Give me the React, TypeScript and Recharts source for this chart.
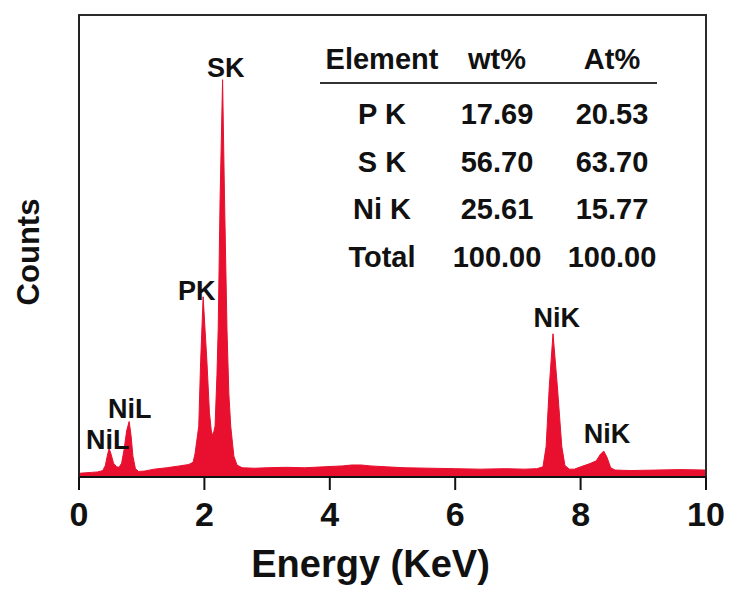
import { AreaChart, Area, XAxis, YAxis, ReferenceArea, ReferenceDot, Label } from "recharts";

// EDS spectrum (energy in KeV, counts in % of plot height)
const energy = [
  0.0, 0.1, 0.2, 0.3, 0.38, 0.42, 0.45, 0.48, 0.51, 0.55, 0.6, 0.64, 0.68, 0.72, 0.76, 0.8, 0.83, 0.86, 0.9,
  0.95, 1.05, 1.2, 1.4, 1.6, 1.75, 1.82, 1.85, 1.88, 1.91, 1.94, 1.98, 2.01, 2.04, 2.08, 2.11, 2.13, 2.15,
  2.17, 2.2, 2.22, 2.25, 2.29, 2.32, 2.36, 2.39, 2.42, 2.47, 2.52, 2.6, 2.8, 3.0, 3.3, 3.6, 3.9, 4.2, 4.35,
  4.5, 4.65, 4.9, 5.2, 5.6, 6.0, 6.4, 6.8, 7.1, 7.3, 7.4, 7.45, 7.5, 7.56, 7.63, 7.7, 7.75, 7.82, 7.9, 8.0,
  8.15, 8.25, 8.32, 8.37, 8.42, 8.48, 8.55, 8.8, 9.2, 9.6, 10.0,
];
const counts = [
  0.8, 0.9, 1.0, 1.1, 1.4, 2.5, 4.5, 6.2, 5.0, 3.0, 2.2, 2.1, 3.0, 6.0, 10.0, 12.0, 9.0, 4.5, 1.8,
  1.2, 1.3, 1.7, 2.0, 2.4, 2.7, 3.2, 5.0, 8.0, 11.0, 25.0, 39.0, 32.0, 25.0, 14.0, 10.0, 9.0, 9.8,
  11.0, 22.0, 32.0, 60.0, 86.0, 61.0, 32.0, 18.0, 11.0, 4.5, 2.6, 2.0, 1.9, 2.0, 2.1, 2.0, 2.2, 2.4, 2.6,
  2.6, 2.4, 2.2, 2.0, 1.9, 1.8, 1.7, 1.8, 1.7, 1.8, 2.2, 6.6, 19.5, 31.0, 19.5, 6.6, 2.5, 1.7, 1.7, 2.2,
  2.9, 3.5, 5.0, 5.6, 4.3, 2.0, 1.5, 1.4, 1.5, 1.6, 1.5,
];
const xTicks = [0, 2, 4, 6, 8, 10];

const peakNames = ["NiL", "NiL", "PK", "SK", "NiK", "NiK"];
const peakX = [0.46, 0.81, 1.88, 2.34, 7.62, 8.42];
const peakY = [8.2, 14.9, 40.3, 88.7, 34.6, 9.5];

const tableHeader = ["Element", "wt%", "At%"];
const elements = ["P K", "S K", "Ni K", "Total"];
const wtPct = ["17.69", "56.70", "25.61", "100.00"];
const atPct = ["20.53", "63.70", "15.77", "100.00"];

const data = energy.map((e, i) => ({ energy: e, counts: counts[i] }));

const FONT = "'Liberation Sans', Arial, Helvetica, sans-serif";
const RED = "#e8102e";
const INK = "#111";

function CountsLabel({ viewBox }: any) {
  const x = viewBox.x + 28;
  const y = viewBox.y + viewBox.height / 2 + 6;
  return (
    <text
      x={x}
      y={y}
      transform={`rotate(-90, ${x}, ${y})`}
      textAnchor="middle"
      dominantBaseline="central"
      fontFamily={FONT}
      fontWeight="bold"
      fontSize={31}
      fill={INK}
    >
      Counts
    </text>
  );
}

function EnergyLabel({ viewBox }: any) {
  return (
    <text
      x={viewBox.x + viewBox.width / 2 - 22}
      y={viewBox.y + 87}
      textAnchor="middle"
      dominantBaseline="central"
      fontFamily={FONT}
      fontWeight="bold"
      fontSize={38}
      fill={INK}
    >
      Energy (KeV)
    </text>
  );
}

const colX = [382, 497, 612];
const rowY = [114, 162, 209, 257];

function Cell({ x, y, text }: { x: number; y: number; text: string }) {
  return (
    <div
      style={{
        position: "absolute",
        left: x - 80,
        top: y - 18,
        width: 160,
        height: 36,
        lineHeight: "36px",
        textAlign: "center",
        fontFamily: FONT,
        fontWeight: "bold",
        fontSize: 29,
        color: INK,
      }}
    >
      {text}
    </div>
  );
}

export default function App() {
  return (
    <div style={{ position: "absolute", left: 0, top: 0, width: 729, height: 590, background: "#fff" }}>
      <AreaChart width={729} height={590} data={data} margin={{ top: 15, right: 23, left: 0, bottom: 0 }}>
        <XAxis
          dataKey="energy"
          type="number"
          domain={[0, 10]}
          ticks={xTicks}
          height={113}
          tickSize={13}
          tickMargin={12}
          axisLine={{ stroke: "#111", strokeWidth: 2 }}
          tickLine={{ stroke: "#111", strokeWidth: 2 }}
          tick={{ fontSize: 34, fontWeight: "bold", fill: INK, fontFamily: FONT }}
        >
          <Label content={<EnergyLabel />} />
        </XAxis>
        <YAxis
          type="number"
          domain={[0, 100]}
          width={79}
          tick={false}
          tickLine={false}
          axisLine={{ stroke: "#222", strokeWidth: 2 }}
        >
          <Label content={<CountsLabel />} />
        </YAxis>
        <Area
          type="linear"
          dataKey="counts"
          stroke={RED}
          strokeWidth={1}
          fill={RED}
          fillOpacity={1}
          isAnimationActive={false}
        />
        <ReferenceArea x1={0} x2={10} y1={0} y2={100} fill="none" stroke="#2a2a2a" strokeWidth={2} />
        {peakNames.map((name, i) => (
          <ReferenceDot
            key={i}
            x={peakX[i]}
            y={peakY[i]}
            r={1}
            fill="none"
            stroke="none"
            label={{
              value: name,
              position: "center",
              fill: INK,
              fontSize: 27,
              fontWeight: "bold",
              fontFamily: FONT,
            }}
          />
        ))}
      </AreaChart>
      {tableHeader.map((t, i) => (
        <Cell key={"h" + i} x={colX[i]} y={59} text={t} />
      ))}
      <div style={{ position: "absolute", left: 320, top: 82, width: 337, height: 2, background: "#333" }} />
      {elements.map((t, r) => (
        <Cell key={"e" + r} x={colX[0]} y={rowY[r]} text={t} />
      ))}
      {wtPct.map((t, r) => (
        <Cell key={"w" + r} x={colX[1]} y={rowY[r]} text={t} />
      ))}
      {atPct.map((t, r) => (
        <Cell key={"a" + r} x={colX[2]} y={rowY[r]} text={t} />
      ))}
    </div>
  );
}
